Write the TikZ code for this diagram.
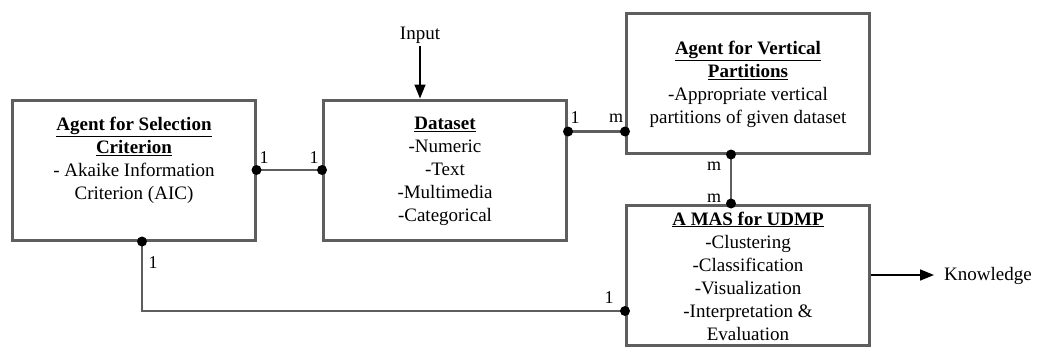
\documentclass[tikz,border=0pt]{standalone}
\usepackage{fontspec}
\setmainfont{Liberation Serif}
\usetikzlibrary{arrows.meta,calc}
\definecolor{boxgray}{HTML}{5E5E5E}
\tikzset{
  box/.style={draw=boxgray, line width=3pt, minimum width=243pt, minimum height=140pt, inner sep=0pt},
  txt/.style={align=center, inner sep=0pt, font=\fontsize{19}{23}\selectfont},
  conn/.style={draw=boxgray, line width=2.6pt},
  arr/.style={draw=black, line width=1.6pt, -{Triangle[length=14pt,width=11pt]}},
  dot/.style={fill=black},
  lbl/.style={inner sep=0pt, font=\fontsize{18}{20}\selectfont}
}
\begin{document}
\begin{tikzpicture}[x=1pt,y=-1pt]
\useasboundingbox (0,0) rectangle (1038,356);
% boxes
\node[box] (sel) at (133.5,170) {};
\node[box] (data) at (445,170) {};
\node[box] (vp) at (748,83) {};
\node[box] (udmp) at (748,275) {};
% texts
\node[txt] (selt) at (134,160) {\underline{\textbf{Agent for Selection}}\\\underline{\textbf{Criterion}}\\- Akaike Information\\Criterion (AIC)};
\node[txt] (datat) at (445,171) {\underline{\textbf{Dataset}}\\-Numeric\\-Text\\-Multimedia\\-Categorical};
\node[txt] (vpt) at (748,84) {\underline{\textbf{Agent for Vertical}}\\\underline{\textbf{Partitions}}\\-Appropriate vertical\\partitions of given dataset};
\node[txt] (udmpt) at (748,276) {\underline{\textbf{A MAS for UDMP}}\\-Clustering\\-Classification\\-Visualization\\-Interpretation \&\\Evaluation};
\node[txt] (input) at (420,35) {Input};
\node[txt, anchor=west] (know) at (944,276) {Knowledge};
% connection points
\coordinate (sd1) at (sel.east);
\coordinate (sd2) at (data.west);
\coordinate (dv1) at ([yshift=38.5pt]data.east);
\coordinate (dv2) at ([yshift=-48.5pt]vp.west);
\coordinate (vu1) at ([xshift=-17pt]vp.south);
\coordinate (vu2) at ([xshift=-17pt]udmp.north);
\coordinate (su1) at ([xshift=8.5pt]sel.south);
\coordinate (su2) at ([yshift=-36pt]udmp.west);
% connectors
\draw[conn] (sd1) -- (sd2);
\draw[conn] (dv1) -- (dv2);
\draw[conn] (vu1) -- (vu2);
\draw[conn] (su1) |- (su2);
\draw[arr] (input.south) ++(0,3) -- (input.south |- data.north);
\draw[arr, shorten >=10pt] (udmp.east) -- (udmp.east -| know.west);
% dots
\foreach \p in {sd1,sd2,dv1,dv2,vu1,vu2,su1,su2} \fill[dot] (\p) circle (5pt);
% multiplicity labels
\node[lbl] (l1) at (264,158) {1};
\node[lbl] (l2) at (314,158) {1};
\node[lbl] (l3) at (575,118) {1};
\node[lbl] (l4) at (616,118) {m};
\node[lbl] (l5) at (714,166) {m};
\node[lbl] (l6) at (714,198) {m};
\node[lbl] (l7) at (153,263) {1};
\node[lbl] (l8) at (609,298) {1};
\end{tikzpicture}
\end{document}
